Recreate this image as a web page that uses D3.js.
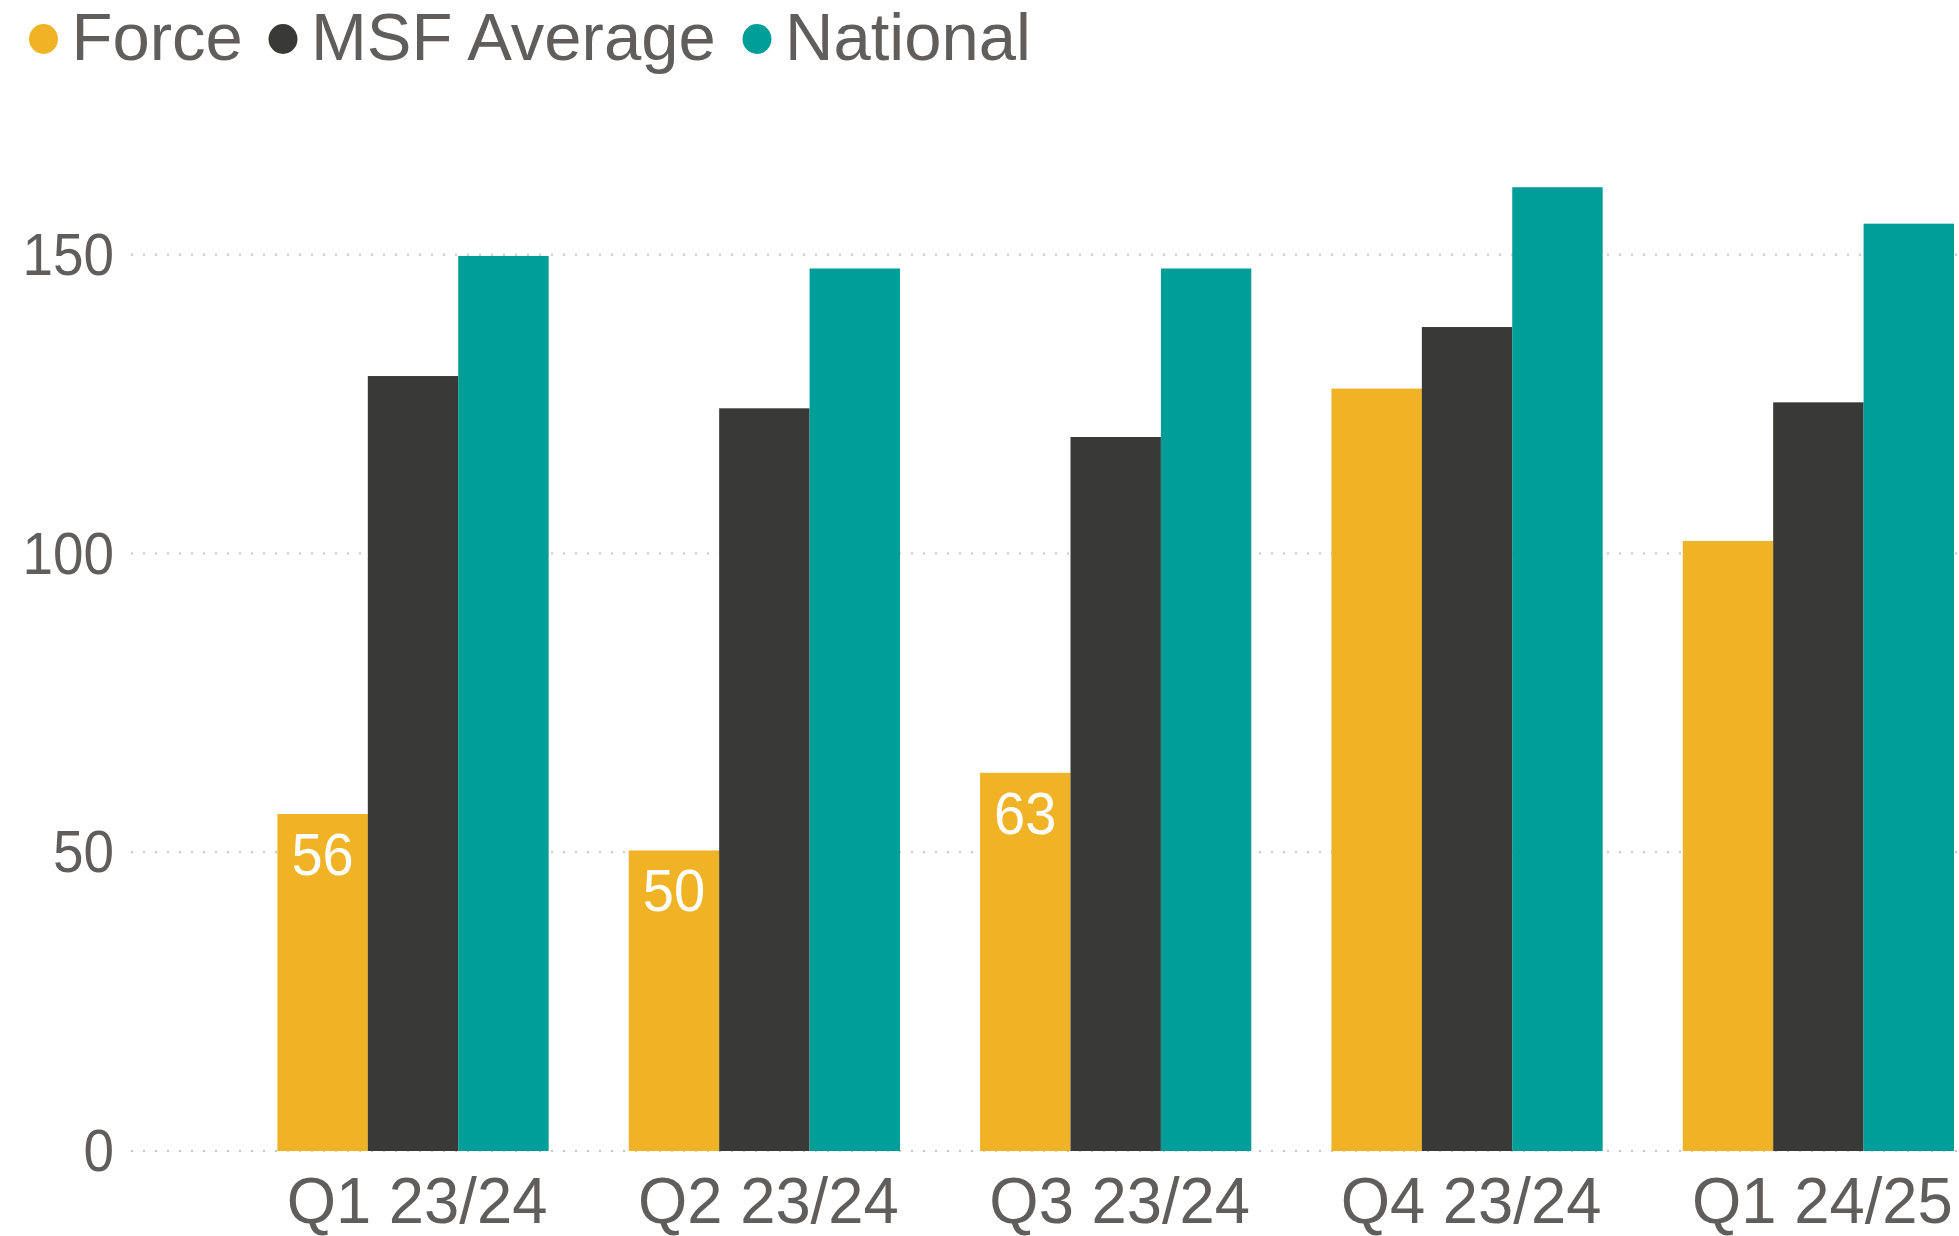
<!DOCTYPE html>
<html>
<head>
<meta charset="utf-8">
<script src="https://cdn.jsdelivr.net/npm/d3@7"></script>
<style>
  html, body { margin: 0; padding: 0; background: #fff; }
  svg { display: block; font-family: "Liberation Sans", Arial, sans-serif; }
</style>
</head>
<body>
<svg id="chart" width="1959" height="1236"></svg>
<script>
'use strict';

// data
const quarters = ['Q1 23/24', 'Q2 23/24', 'Q3 23/24', 'Q4 23/24', 'Q1 24/25'];
const seriesNames = ['Force', 'MSF Average', 'National'];
const force = [56.4, 50.3, 63.3, 127.6, 102.1];
const msfAverage = [129.7, 124.3, 119.5, 137.9, 125.3];
const national = [149.8, 147.7, 147.7, 161.3, 155.2];
const forceLabels = [56, 50, 63, null, null];
const yTicks = [0, 50, 100, 150];

const colours = { 'Force': '#EFB325', 'MSF Average': '#393A37', 'National': '#009E98' };
const textGrey = '#605E5C';

const svg = d3.select('#chart');

const yBase = 1151;
const unit = 5.975;
const y = d3.scaleLinear([0, 170], [yBase, yBase - 170 * unit]);

const x = d3.scaleBand(quarters, [277.4, 1954])
    .paddingInner(0.228)
    .paddingOuter(0);

const xs = d3.scaleBand(seriesNames, [0, x.bandwidth()]);

// numbers in the reference are a little narrower than Liberation Sans
const squeeze = (px, py, sx) => `translate(${px},${py}) scale(${sx},1)`;

// gridlines
svg.append('g')
    .selectAll('line')
    .data(yTicks)
    .join('line')
    .attr('x1', 131)
    .attr('x2', 1959)
    .attr('y1', d => y(d))
    .attr('y2', d => y(d))
    .attr('stroke', '#C8C6C4')
    .attr('stroke-width', 2)
    .attr('stroke-dasharray', '2 10');

// y tick labels
svg.append('g')
    .selectAll('text')
    .data(yTicks)
    .join('text')
    .attr('transform', d => squeeze(114, y(d) + 20, 0.93))
    .attr('text-anchor', 'end')
    .attr('font-size', 59)
    .attr('fill', textGrey)
    .text(d => d);

// bars
const rows = quarters.map((q, i) => ({
    quarter: q,
    values: [
        { name: 'Force', value: force[i], label: forceLabels[i] },
        { name: 'MSF Average', value: msfAverage[i] },
        { name: 'National', value: national[i] }
    ]
}));

const groups = svg.append('g')
    .selectAll('g')
    .data(rows)
    .join('g')
    .attr('transform', d => `translate(${x(d.quarter)},0)`);

groups.selectAll('rect')
    .data(d => d.values)
    .join('rect')
    .attr('x', d => xs(d.name))
    .attr('y', d => y(d.value))
    .attr('width', xs.bandwidth())
    .attr('height', d => y(0) - y(d.value))
    .attr('fill', d => colours[d.name]);

groups.selectAll('text.label')
    .data(d => d.values.filter(v => v.label != null))
    .join('text')
    .attr('class', 'label')
    .attr('transform', d => squeeze(xs(d.name) + xs.bandwidth() / 2, y(d.value) + 61, 0.95))
    .attr('text-anchor', 'middle')
    .attr('font-size', 59)
    .attr('fill', '#fff')
    .text(d => d.label);

// x labels
svg.append('g')
    .selectAll('text')
    .data(quarters)
    .join('text')
    .attr('transform', d => squeeze(x(d) + x.bandwidth() / 2 + 4, 1223, 0.975))
    .attr('text-anchor', 'middle')
    .attr('font-size', 65)
    .attr('fill', textGrey)
    .text(d => d);

// legend
const legendX = [43.5, 283, 757];
const legend = svg.append('g')
    .selectAll('g')
    .data(seriesNames)
    .join('g')
    .attr('transform', (d, i) => `translate(${legendX[i]},39)`);

legend.append('ellipse')
    .attr('rx', 14.5)
    .attr('ry', 15)
    .attr('fill', d => colours[d]);

legend.append('text')
    .attr('x', 28)
    .attr('y', 21)
    .attr('font-size', 67)
    .attr('fill', textGrey)
    .text(d => d);
</script>
</body>
</html>
